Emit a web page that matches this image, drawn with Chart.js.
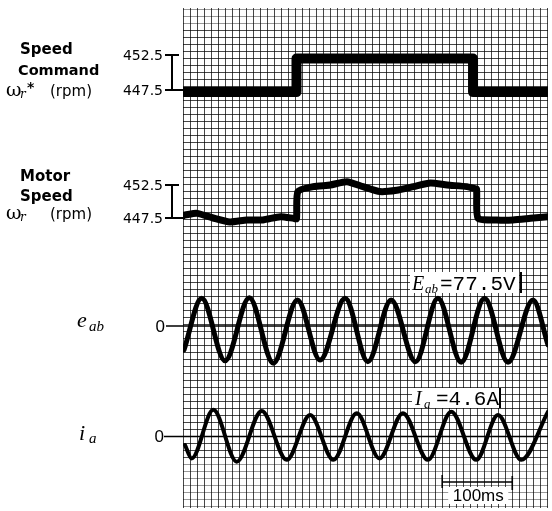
<!DOCTYPE html>
<html><head><meta charset="utf-8">
<script src="https://cdn.jsdelivr.net/npm/chart.js@4.4.0/dist/chart.umd.min.js"></script>
<style>html,body{margin:0;padding:0;background:#fff;}#wrap{width:552px;height:511px;}</style>
</head><body><div id="wrap"><canvas id="c" width="552" height="511"></canvas></div>
<script>
// ---- data (time in ms) ----
const cmdTime  = [0, 162, 162, 414, 414, 521];
const cmdSpeed = [447.2, 447.2, 452.0, 452.0, 447.2, 447.2];

const motorTime  = [0, 3, 20, 43, 67, 91, 114, 139, 158, 162, 164, 186, 210, 234, 257, 281, 305, 329, 353, 377, 405, 415, 419, 421, 448, 471, 496, 521];
const motorSpeed = [447.9, 447.95, 448.2, 447.5, 446.9, 447.2, 447.2, 447.7, 447.45, 447.4, 451.5, 452.25, 452.5, 453.0, 452.25, 451.5, 451.7, 452.25, 452.8, 452.5, 452.25, 452.0, 451.9, 447.5, 447.2, 447.2, 447.45, 447.7];

const eabTime = [1.4, 26.7, 60, 94.7, 129, 163.3, 195.7, 231.4, 263.9, 297.1, 331.9, 363.9, 397.1, 430.4, 463.9, 499.6, 521];
const eabVolt = [-84, 97, -122, 99, -130, 91, -119, 97, -125, 91, -125, 97, -127, 97, -127, 91, -66];

const iaTime = [2.9, 12.4, 43.3, 76.7, 112.4, 148.1, 181.4, 214.7, 248.1, 280.4, 313.9, 349.6, 382.9, 418.6, 449.6, 482.9, 521];
const iaAmp  = [-2.3, -5.9, 7.2, -6.8, 6.9, -6.3, 5.8, -6.3, 6.3, -5.9, 6.3, -6.3, 6.7, -6.3, 5.8, -6.3, 6.7];

const speedTicks = [452.5, 447.5];
const zeroTick = 0;
const scaleBarMs = [370, 470];
const scaleBarLabel = "100ms";
const eabNote = "=77.5V";
const iaNote = "=4.6A";

// ---- layout helpers ----
const TOP = 8, BOTTOM = 508;
function fit(vA, pA, vB, pB) {
  const k = (vB - vA) / (pA - pB);
  return { min: vA + (pA - BOTTOM) * k, max: vA + (pA - TOP) * k };
}
const pts = (xs, ys) => xs.map((x, i) => ({ x: x, y: ys[i] }));

const gridColor = (ctx) => {
  const s = ctx.scale;
  const p = s.getPixelForValue(ctx.tick.value);
  if (s.axis === 'y' && (p > 462 || p < 30)) return 'rgba(0,0,0,0.4)';
  return 'rgba(0,0,0,0.72)';
};

const labels = {
  id: 'labels',
  beforeDatasetsDraw(chart) {
    const ctx = chart.ctx;
    const { left, right } = chart.chartArea;
    const sE = chart.scales.yE, sI = chart.scales.yI, sx = chart.scales.x;
    ctx.save();
    // zero lines
    ctx.strokeStyle = '#000';
    ctx.lineWidth = 1.6;
    const yE0 = sE.getPixelForValue(zeroTick), yI0 = sI.getPixelForValue(zeroTick);
    ctx.beginPath();
    ctx.moveTo(166, yE0); ctx.lineTo(right, yE0);
    ctx.moveTo(164, yI0); ctx.lineTo(right, yI0);
    ctx.stroke();
    ctx.fillStyle = '#000';
    ctx.font = '17px "Liberation Sans"';
    ctx.textAlign = 'right'; ctx.textBaseline = 'middle';
    ctx.fillText(String(zeroTick), 165, yE0 + 1);
    ctx.fillText(String(zeroTick), 164, yI0 + 1);

    // annotation boxes
    ctx.fillStyle = '#fff';
    ctx.fillRect(410, 272, 109, 21);
    ctx.fillRect(412, 388, 87, 20);
    ctx.fillStyle = '#000';
    ctx.lineWidth = 2;
    ctx.beginPath();
    ctx.moveTo(521, 272); ctx.lineTo(521, 293);
    ctx.moveTo(500, 388); ctx.lineTo(500, 408);
    ctx.stroke();
    ctx.textAlign = 'left'; ctx.textBaseline = 'alphabetic';
    ctx.font = 'italic 20px "Liberation Serif"';
    ctx.fillText('E', 412, 290);
    ctx.fillText('I', 415, 405);
    ctx.font = 'italic 13px "Liberation Serif"';
    ctx.fillText('ab', 425, 293);
    ctx.fillText('a', 424, 408);
    ctx.font = '21px "Liberation Mono"';
    ctx.fillText(eabNote, 440, 290);
    ctx.fillText(iaNote, 436, 405);

    // 100 ms scale bar
    const xa = sx.getPixelForValue(scaleBarMs[0]), xb = sx.getPixelForValue(scaleBarMs[1]);
    ctx.fillStyle = '#fff';
    ctx.fillRect(xa + 6, 487, xb - xa - 10, 17);
    ctx.strokeStyle = '#000';
    ctx.lineWidth = 1.6;
    ctx.beginPath();
    ctx.moveTo(xa, 482); ctx.lineTo(xb, 482);
    ctx.moveTo(xa, 475); ctx.lineTo(xa, 488);
    ctx.moveTo(xb, 476); ctx.lineTo(xb, 490);
    ctx.stroke();
    ctx.fillStyle = '#000';
    ctx.font = '17px "Liberation Sans"';
    ctx.textAlign = 'center';
    ctx.fillText(scaleBarLabel, (xa + xb) / 2 + 1, 501);
    ctx.restore();
  },
  afterDatasetsDraw(chart) {
    const ctx = chart.ctx;
    const { left } = chart.chartArea;
    const sC = chart.scales.yCmd, sM = chart.scales.yMot;
    ctx.save();
    ctx.fillStyle = '#000'; ctx.strokeStyle = '#000';
    function bracket(scale) {
      const yH = scale.getPixelForValue(speedTicks[0]);
      const yL = scale.getPixelForValue(speedTicks[1]);
      ctx.lineWidth = 2;
      ctx.beginPath();
      ctx.moveTo(165, yH); ctx.lineTo(179, yH);
      ctx.moveTo(172, yH); ctx.lineTo(172, yL);
      ctx.moveTo(165, yL); ctx.lineTo(left + 2, yL);
      ctx.stroke();
      ctx.font = '14px "DejaVu Sans"';
      ctx.textAlign = 'right'; ctx.textBaseline = 'middle';
      ctx.fillText(speedTicks[0].toFixed(1), 163, yH + 1);
      ctx.fillText(speedTicks[1].toFixed(1), 163, yL + 1);
    }
    bracket(sC);
    bracket(sM);
    ctx.textAlign = 'left'; ctx.textBaseline = 'alphabetic';
    ctx.font = 'bold 15px "DejaVu Sans"';
    ctx.fillText('Speed', 20, 54);
    ctx.fillText('Motor', 20, 181);
    ctx.fillText('Speed', 20, 201);
    ctx.font = 'bold 14.5px "DejaVu Sans"';
    ctx.fillText('Command', 18, 75);
    function omega(y, star) {
      ctx.font = '19px "DejaVu Serif"';
      ctx.fillText('\u03C9', 6, y);
      ctx.font = 'italic 12px "DejaVu Serif"';
      ctx.fillText('r', 20, y + 2);
      if (star) { ctx.font = 'bold 14px "DejaVu Sans"'; ctx.fillText('*', 27, y - 4); }
      ctx.font = '15px "DejaVu Sans"';
      ctx.fillText('(rpm)', 50, y);
    }
    omega(96, true);
    omega(219, false);
    // e_ab and i_a labels
    ctx.font = 'italic 22px "Liberation Serif"';
    ctx.fillText('e', 77, 327);
    ctx.fillText('i', 79, 440);
    ctx.font = 'italic 15px "Liberation Serif"';
    ctx.fillText('ab', 89, 331);
    ctx.fillText('a', 89, 443);
    ctx.restore();
  }
};

const hidden = (r) => Object.assign({ type: 'linear', display: false }, r);

new Chart(document.getElementById('c'), {
  type: 'line',
  data: {
    datasets: [
      { label: 'Speed command', data: pts(cmdTime, cmdSpeed), yAxisID: 'yCmd', borderColor: '#000', borderWidth: 10, pointRadius: 0, tension: 0, borderJoinStyle: 'round', borderCapStyle: 'butt' },
      { label: 'Motor speed', data: pts(motorTime, motorSpeed), yAxisID: 'yMot', borderColor: '#000', borderWidth: 7, pointRadius: 0, tension: 0.2, borderJoinStyle: 'round', borderCapStyle: 'round' },
      { label: 'e_ab', data: pts(eabTime, eabVolt), yAxisID: 'yE', borderColor: '#000', borderWidth: 5, pointRadius: 0, cubicInterpolationMode: 'monotone', borderJoinStyle: 'round', borderCapStyle: 'round' },
      { label: 'i_a', data: pts(iaTime, iaAmp), yAxisID: 'yI', borderColor: '#000', borderWidth: 4, pointRadius: 0, cubicInterpolationMode: 'monotone', borderJoinStyle: 'round', borderCapStyle: 'round' }
    ]
  },
  options: {
    responsive: false, animation: false, devicePixelRatio: 1,
    layout: { padding: { left: 183, right: 4, top: TOP, bottom: 511 - BOTTOM } },
    plugins: { legend: { display: false }, tooltip: { enabled: false } },
    scales: {
      x: { type: 'linear', min: 0, max: 521,
           ticks: { display: false, stepSize: 10, autoSkip: false, maxTicksLimit: 100, includeBounds: false },
           grid: { color: gridColor, lineWidth: 1, drawTicks: false }, border: { display: false } },
      yCmd: Object.assign({ type: 'linear', position: 'left',
           ticks: { display: false, stepSize: 1, autoSkip: false, maxTicksLimit: 200, includeBounds: false },
           grid: { color: gridColor, lineWidth: 1, drawTicks: false }, border: { display: false } },
           fit(speedTicks[1], 90, speedTicks[0], 55)),
      yMot: hidden(fit(speedTicks[1], 218, speedTicks[0], 185)),
      yE: hidden(fit(0, 326, 100, 297.43)),
      yI: hidden(fit(0, 436.5, 6.5, 412.4))
    }
  },
  plugins: [labels]
});
</script></body></html>
